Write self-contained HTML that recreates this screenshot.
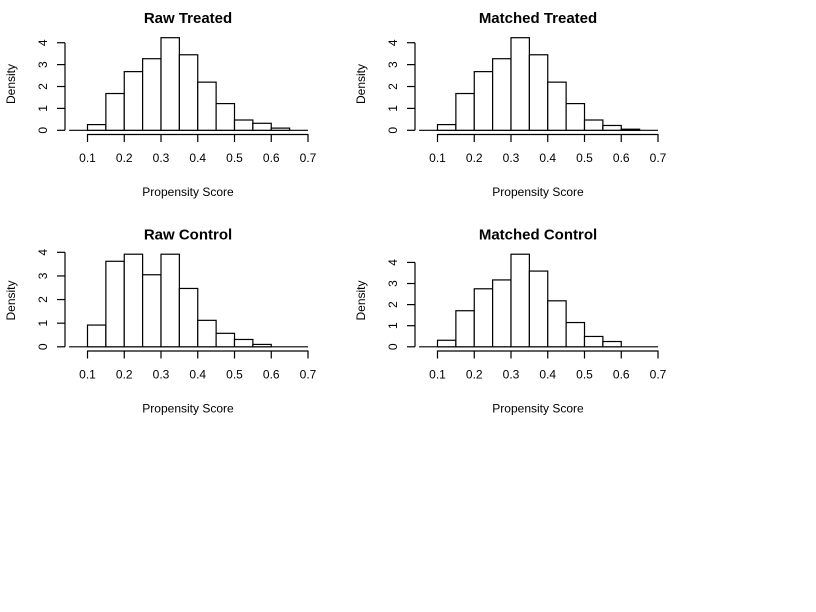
<!DOCTYPE html>
<html><head><meta charset="utf-8"><style>
html,body{margin:0;padding:0;background:#fff;}
svg{display:block;font-family:"Liberation Sans",Arial,sans-serif;}
</style></head><body>
<svg id="chart" width="816" height="612" viewBox="0 0 816 612"></svg>
<script>
const breaks = [0.05,0.1,0.15,0.2,0.25,0.3,0.35,0.4,0.45,0.5,0.55,0.6,0.65,0.7];
const xTicks = [0.1,0.2,0.3,0.4,0.5,0.6,0.7];
const rawTreated = [0,0.26,1.68,2.68,3.27,4.23,3.45,2.2,1.22,0.47,0.32,0.1,0];
const matchedTreated = [0,0.26,1.68,2.68,3.27,4.23,3.45,2.2,1.22,0.47,0.22,0.05,0];
const rawControl = [0,0.92,3.62,3.92,3.05,3.92,2.47,1.12,0.57,0.31,0.1,0,0];
const matchedControl = [0,0.31,1.71,2.75,3.17,4.39,3.59,2.18,1.15,0.49,0.25,0,0];
const yTicks = [0,1,2,3,4];
const titles = ["Raw Treated","Matched Treated","Raw Control","Matched Control"];
const series = [rawTreated, matchedTreated, rawControl, matchedControl];
const offsets = [[0,0],[350,0],[0,216.5],[350,216.5]];
const NS = "http://www.w3.org/2000/svg";
const svg = document.getElementById('chart');
function mk(tag, attrs, parent){const e=document.createElementNS(NS,tag);for(const k in attrs)e.setAttribute(k,attrs[k]);(parent||svg).appendChild(e);return e;}
const slugs=["raw-treated","matched-treated","raw-control","matched-control"];
series.forEach((vals,p)=>{
  const [ox,oy]=offsets[p];
  const g=mk('g',{});
  
  
  const xs=v=>ox+87.5+(v-0.1)*(308-87.5)/0.6;
  const ymax=Math.max(...vals);
  const bottom=oy+134, H=100;
  const scale=H/(1.08*ymax);
  const ys=v=>bottom-0.04*ymax*scale-v*scale;
  const t=mk('text',{x:ox+188,y:oy+23,'text-anchor':'middle','font-size':'15','font-weight':'bold'},g);
  t.textContent=titles[p];
  
  
  const bl=mk('line',{x1:xs(breaks[0]),x2:xs(breaks[breaks.length-1]),y1:ys(0),y2:ys(0),stroke:'#000','stroke-width':1.2},g);
  
  
  vals.forEach((v,i)=>{
    const x0=xs(breaks[i]),x1=xs(breaks[i+1]);
    const r=mk('rect',{x:x0,y:ys(v),width:x1-x0,height:ys(0)-ys(v),fill:'#fff',stroke:'#000','stroke-width':1.2},g);
    
    
  });
  const xa=mk('g',{},g);
  
  
  mk('line',{x1:xs(0.1),x2:xs(0.7),y1:bottom+0.5,y2:bottom+0.5,stroke:'#000','stroke-width':1.2},xa);
  xTicks.forEach(v=>{
    mk('line',{x1:xs(v),x2:xs(v),y1:bottom,y2:bottom+8,stroke:'#000','stroke-width':1.2},xa);
    const l=mk('text',{x:xs(v),y:bottom+28,'text-anchor':'middle','font-size':'12'},xa);
    l.textContent=v.toFixed(1);
    
    
  });
  const xl=mk('text',{x:ox+188,y:oy+196,'text-anchor':'middle','font-size':'12'},g);
  xl.textContent='Propensity Score';
  
  
  const ya=mk('g',{},g);
  
  
  const ax=ox+65;
  const top=yTicks.filter(v=>v<=ymax*1.04).pop();
  mk('line',{x1:ax,x2:ax,y1:ys(0),y2:ys(top),stroke:'#000','stroke-width':1.2},ya);
  yTicks.filter(v=>v<=ymax*1.04).forEach(v=>{
    mk('line',{x1:ax-8,x2:ax,y1:ys(v),y2:ys(v),stroke:'#000','stroke-width':1.2},ya);
    const l=mk('text',{x:ox+47,y:ys(v),'text-anchor':'middle','font-size':'12',transform:`rotate(-90 ${ox+47} ${ys(v)})`},ya);
    l.textContent=String(v);
    
    
  });
  const cy=oy+84;
  const yl=mk('text',{x:ox+15,y:cy,'text-anchor':'middle','font-size':'12',transform:`rotate(-90 ${ox+15} ${cy})`},g);
  yl.textContent='Density';
  
  
});
</script>
</body></html>
